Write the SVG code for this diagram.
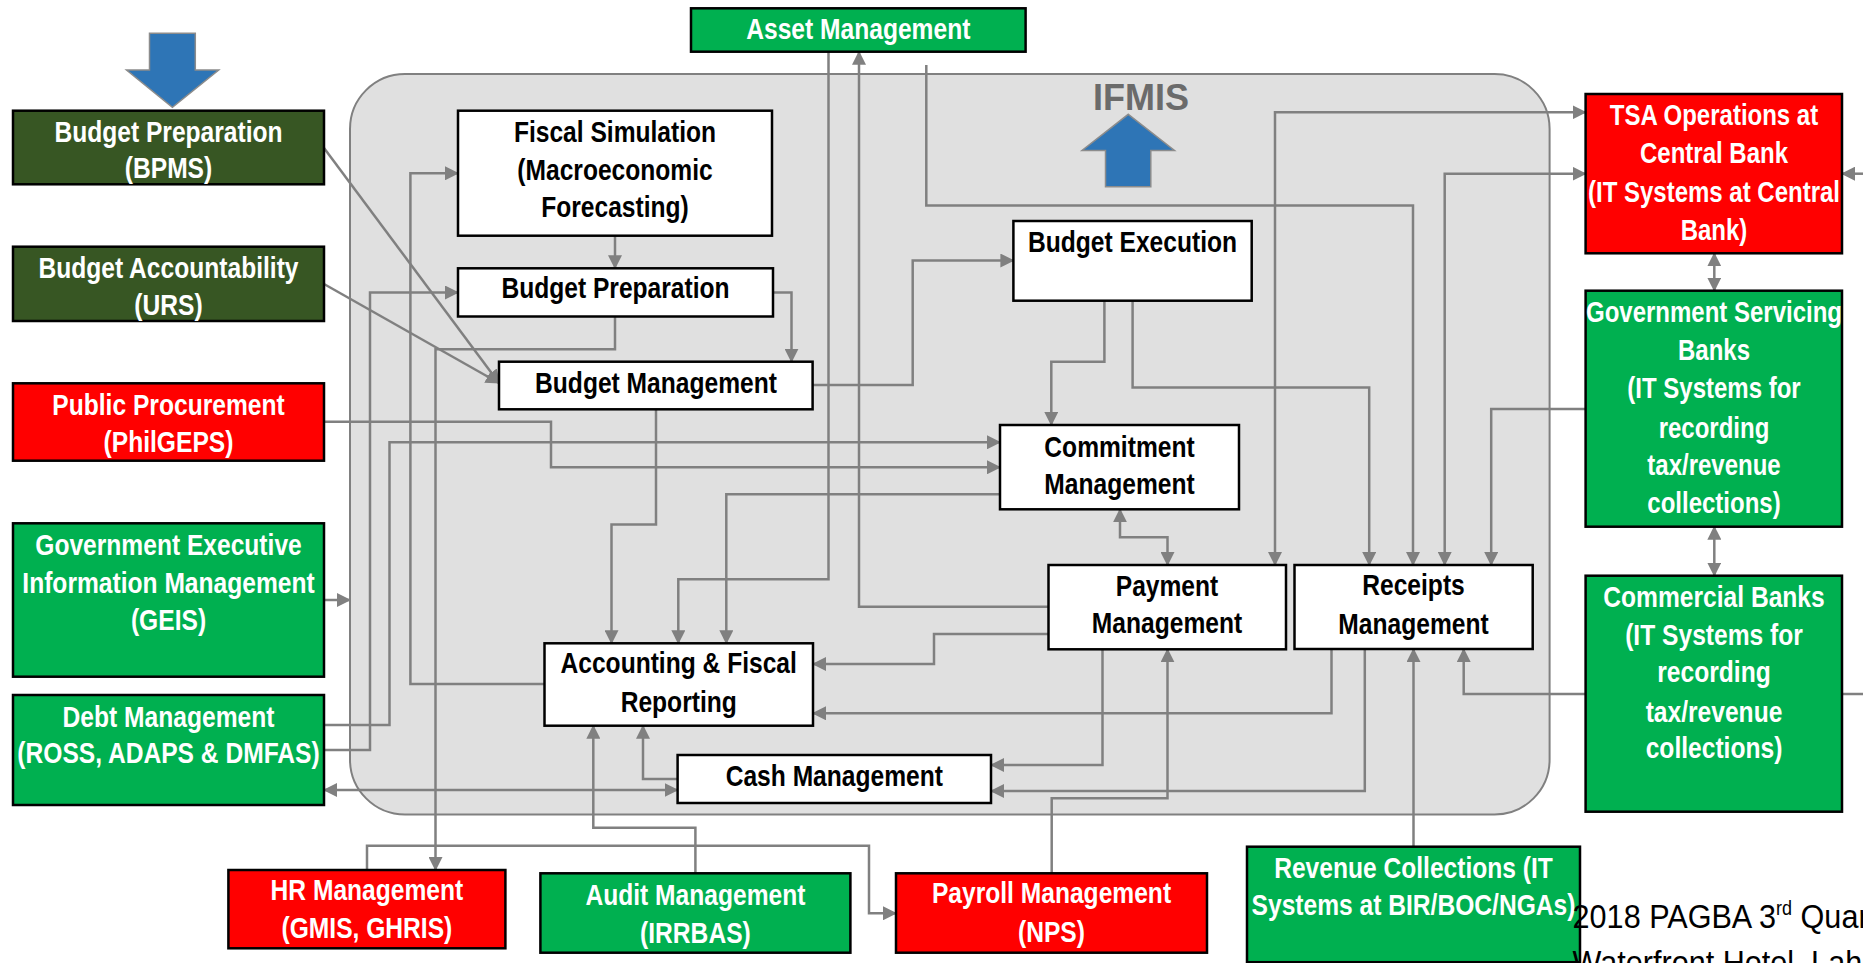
<svg xmlns="http://www.w3.org/2000/svg" width="1863" height="963" viewBox="0 0 1863 963">
<style>
.t{font-family:'Liberation Sans',Arial,sans-serif;font-weight:bold;font-size:30px;text-anchor:middle}
.w{fill:#ffffff}
.k{fill:#000000}
.box{stroke:#000000;stroke-width:2.5}
.dg{fill:#375623}
.gr{fill:#00b050}
.rd{fill:#ff0000}
.wh{fill:#ffffff}
.c{fill:none;stroke:#808080;stroke-width:2.5}
.e{marker-end:url(#ah)}
.b{marker-start:url(#ah);marker-end:url(#ah)}
.blue{fill:#2e75b6;stroke:#8c8c8c;stroke-width:1.5}
</style>
<defs>
<marker id="ah" viewBox="0 0 14 14" refX="13" refY="7" markerWidth="14" markerHeight="14" markerUnits="userSpaceOnUse" orient="auto-start-reverse"><path d="M0,0L14,7L0,14z" fill="#808080"/></marker>
</defs>

<g id="ifmis">
<rect x="350" y="74" width="1199.6" height="740.5" rx="55" fill="#e0e0e0" stroke="#808080" stroke-width="2"/>
<text x="1141" y="110" font-family="'Liberation Sans',Arial,sans-serif" font-weight="bold" font-size="36" fill="#6b6b6b" text-anchor="middle">IFMIS</text>
<polygon class="blue" points="1128.3,114.3 1174.5,150.5 1150.8,150.5 1150.8,186.7 1105.5,186.7 1105.5,150.5 1082,150.5"/>
</g>
<g id="down-arrow">
<polygon class="blue" points="149.5,33.3 195.3,33.3 195.3,70 218.7,70 172.4,107.3 126.5,70 149.5,70"/>
</g>

<g id="connectors">
<path class="c e" d="M324,148 L499,383"/>
<path class="c e" d="M324,284 L499,383"/>
<path class="c e" d="M324,421.7 H551 V467.3 H1000"/>
<path class="c e" d="M324,725 H389.5 V442.3 H1000"/>
<path class="c e" d="M324,750 H370 V292.5 H458"/>
<path class="c e" d="M324,600 H350"/>
<path class="c b" d="M324,790 H677.6"/>
<path class="c e" d="M544.5,684 H410.4 V173.3 H458"/>
<path class="c e" d="M615,235.7 V268.3"/>
<path class="c e" d="M773,292.5 H791.5 V361.7"/>
<path class="c e" d="M615,316.5 V349.3 H435.5 V870"/>
<path class="c e" d="M812.6,385 H912.7 V260.5 H1013.4"/>
<path class="c e" d="M656,409.3 V524.5 H611.5 V643.3"/>
<path class="c e" d="M828.5,51.7 V579.3 H678.3 V643.3"/>
<path class="c e" d="M1048.5,606.7 H859 V51.7"/>
<path class="c e" d="M926.3,65 V205.5 H1413 V565"/>
<path class="c e" d="M1104.4,300.7 V361.7 H1051.3 V425"/>
<path class="c e" d="M1132.6,300.7 V387.5 H1369.2 V565"/>
<path class="c e" d="M1000,494.3 H726.3 V643.3"/>
<path class="c b" d="M1120,509.3 V537.3 H1167.5 V565"/>
<path class="c b" d="M1275,565 V112.3 H1585.6"/>
<path class="c b" d="M1444.7,565 V173.7 H1585.6"/>
<path class="c e" d="M1585.6,409 H1491.2 V565"/>
<path class="c e" d="M1048.5,634 H934 V664 H813"/>
<path class="c e" d="M1102.5,649.3 V765 H991"/>
<path class="c e" d="M1051.7,873.3 V798.3 H1167.5 V649.3"/>
<path class="c e" d="M1331.5,649 V713.3 H813"/>
<path class="c e" d="M1364.8,649 V791 H991"/>
<path class="c e" d="M1413.5,846.7 V649"/>
<path class="c e" d="M1585.6,694 H1463.7 V649"/>
<path class="c" d="M1842,694 H1863"/>
<path class="c e" d="M1863,173.7 H1842"/>
<path class="c b" d="M1714.3,253.3 V290.7"/>
<path class="c b" d="M1714.3,526.7 V575.7"/>
<path class="c e" d="M695.4,873.3 V827.7 H593.3 V725.7"/>
<path class="c e" d="M677.6,779 H643 V725.7"/>
<path class="c e" d="M367,870 V845.7 H869 V913.3 H896"/>
</g>

<g id="bpms"><rect class="box dg" x="13" y="110.7" width="311" height="73.6"/>
<text class="t w" transform="matrix(0.82 0 0 1 168.5 0)"><tspan x="0" y="142">Budget Preparation</tspan><tspan x="0" y="178">(BPMS)</tspan></text></g>
<g id="urs"><rect class="box dg" x="13" y="246.7" width="311" height="74.3"/>
<text class="t w" transform="matrix(0.82 0 0 1 168.5 0)"><tspan x="0" y="278.3">Budget Accountability</tspan><tspan x="0" y="315">(URS)</tspan></text></g>
<g id="philgeps"><rect class="box rd" x="13" y="383.3" width="311" height="77.4"/>
<text class="t w" transform="matrix(0.82 0 0 1 168.5 0)"><tspan x="0" y="415">Public Procurement</tspan><tspan x="0" y="451.7">(PhilGEPS)</tspan></text></g>
<g id="geis"><rect class="box gr" x="13" y="523.3" width="311" height="153.4"/>
<text class="t w" transform="matrix(0.82 0 0 1 168.5 0)"><tspan x="0" y="555">Government Executive</tspan><tspan x="0" y="592.7">Information Management</tspan><tspan x="0" y="630">(GEIS)</tspan></text></g>
<g id="debt"><rect class="box gr" x="13" y="695" width="311" height="110"/>
<text class="t w" transform="matrix(0.82 0 0 1 168.5 0)"><tspan x="0" y="726.7">Debt Management</tspan><tspan x="0" y="763.3">(ROSS, ADAPS &amp; DMFAS)</tspan></text></g>
<g id="hr"><rect class="box rd" x="228.4" y="870" width="277" height="78.3"/>
<text class="t w" transform="matrix(0.82 0 0 1 366.9 0)"><tspan x="0" y="900">HR Management</tspan><tspan x="0" y="938.3">(GMIS, GHRIS)</tspan></text></g>
<g id="audit"><rect class="box gr" x="540.4" y="873.3" width="310" height="79.4"/>
<text class="t w" transform="matrix(0.82 0 0 1 695.4 0)"><tspan x="0" y="905">Audit Management</tspan><tspan x="0" y="943.3">(IRRBAS)</tspan></text></g>
<g id="payroll"><rect class="box rd" x="896" y="873.3" width="311" height="79.4"/>
<text class="t w" transform="matrix(0.82 0 0 1 1051.5 0)"><tspan x="0" y="903.3">Payroll Management</tspan><tspan x="0" y="941.7">(NPS)</tspan></text></g>
<g id="revenue"><rect class="box gr" x="1247" y="846.7" width="333" height="115.5"/>
<text class="t w" transform="matrix(0.82 0 0 1 1413.5 0)"><tspan x="0" y="878.3">Revenue Collections (IT</tspan><tspan x="0" y="915">Systems at BIR/BOC/NGAs)</tspan></text></g>
<g id="commercial-banks"><rect class="box gr" x="1585.6" y="575.7" width="256.4" height="236"/>
<text class="t w" transform="matrix(0.82 0 0 1 1714 0)"><tspan x="0" y="606.7">Commercial Banks</tspan><tspan x="0" y="645">(IT Systems for</tspan><tspan x="0" y="681.7">recording</tspan><tspan x="0" y="721.7">tax/revenue</tspan><tspan x="0" y="758.3">collections)</tspan></text></g>
<g id="gsb"><rect class="box gr" x="1585.6" y="290.7" width="256.4" height="236"/>
<text class="t w" transform="matrix(0.8 0 0 1 1714 0)"><tspan x="0" y="321.7">Government Servicing</tspan><tspan x="0" y="360">Banks</tspan><tspan x="0" y="398.3">(IT Systems for</tspan><tspan x="0" y="438.3">recording</tspan><tspan x="0" y="475">tax/revenue</tspan><tspan x="0" y="513.3">collections)</tspan></text></g>
<g id="tsa"><rect class="box rd" x="1585.6" y="94" width="256.4" height="159.3"/>
<text class="t w" transform="matrix(0.8 0 0 1 1714 0)"><tspan x="0" y="125">TSA Operations at</tspan><tspan x="0" y="163.3">Central Bank</tspan><tspan x="0" y="201.7">(IT Systems at Central</tspan><tspan x="0" y="240">Bank)</tspan></text></g>
<g id="asset"><rect class="box gr" x="691" y="8.3" width="334.6" height="43.4"/>
<text class="t w" transform="matrix(0.82 0 0 1 858.3 0)" x="0" y="39.3">Asset Management</text></g>

<g id="fiscal-simulation"><rect class="box wh" x="458" y="110.7" width="314" height="125"/>
<text class="t k" transform="matrix(0.82 0 0 1 615 0)"><tspan x="0" y="141.7">Fiscal Simulation</tspan><tspan x="0" y="180">(Macroeconomic</tspan><tspan x="0" y="217.3">Forecasting)</tspan></text></g>
<g id="budget-preparation"><rect class="box wh" x="458" y="268.3" width="315" height="48.2"/>
<text class="t k" transform="matrix(0.82 0 0 1 615.5 0)" x="0" y="298.3">Budget Preparation</text></g>
<g id="budget-management"><rect class="box wh" x="499" y="361.7" width="313.6" height="47.6"/>
<text class="t k" transform="matrix(0.82 0 0 1 656 0)" x="0" y="392.7">Budget Management</text></g>
<g id="budget-execution"><rect class="box wh" x="1013.4" y="221" width="238.3" height="79.7"/>
<text class="t k" transform="matrix(0.82 0 0 1 1132.5 0)" x="0" y="251.7">Budget Execution</text></g>
<g id="commitment"><rect class="box wh" x="1000" y="425" width="239" height="84.3"/>
<text class="t k" transform="matrix(0.82 0 0 1 1119.5 0)"><tspan x="0" y="456.7">Commitment</tspan><tspan x="0" y="494">Management</tspan></text></g>
<g id="payment"><rect class="box wh" x="1048.5" y="565" width="237.5" height="84.3"/>
<text class="t k" transform="matrix(0.82 0 0 1 1167 0)"><tspan x="0" y="596">Payment</tspan><tspan x="0" y="633.3">Management</tspan></text></g>
<g id="receipts"><rect class="box wh" x="1294.5" y="565" width="238.2" height="84"/>
<text class="t k" transform="matrix(0.82 0 0 1 1413.5 0)"><tspan x="0" y="595">Receipts</tspan><tspan x="0" y="634">Management</tspan></text></g>
<g id="accounting"><rect class="box wh" x="544.5" y="643.3" width="268.5" height="82.4"/>
<text class="t k" transform="matrix(0.82 0 0 1 678.7 0)"><tspan x="0" y="673.3">Accounting &amp; Fiscal</tspan><tspan x="0" y="711.7">Reporting</tspan></text></g>
<g id="cash"><rect class="box wh" x="677.6" y="755" width="313.4" height="48"/>
<text class="t k" transform="matrix(0.82 0 0 1 834.3 0)" x="0" y="786">Cash Management</text></g>

<g id="footer" font-family="'Liberation Sans',Arial,sans-serif" font-size="34" fill="#000000">
<text transform="matrix(0.9 0 0 1 1572.6 0)" x="0" y="928.3">2018 PAGBA 3<tspan font-size="20" dy="-13">rd</tspan><tspan dy="13"> Quar</tspan></text>
<text transform="matrix(0.9 0 0 1 1572.6 0)" x="0" y="974">Waterfront Hotel, Lah</text>
</g>
</svg>
